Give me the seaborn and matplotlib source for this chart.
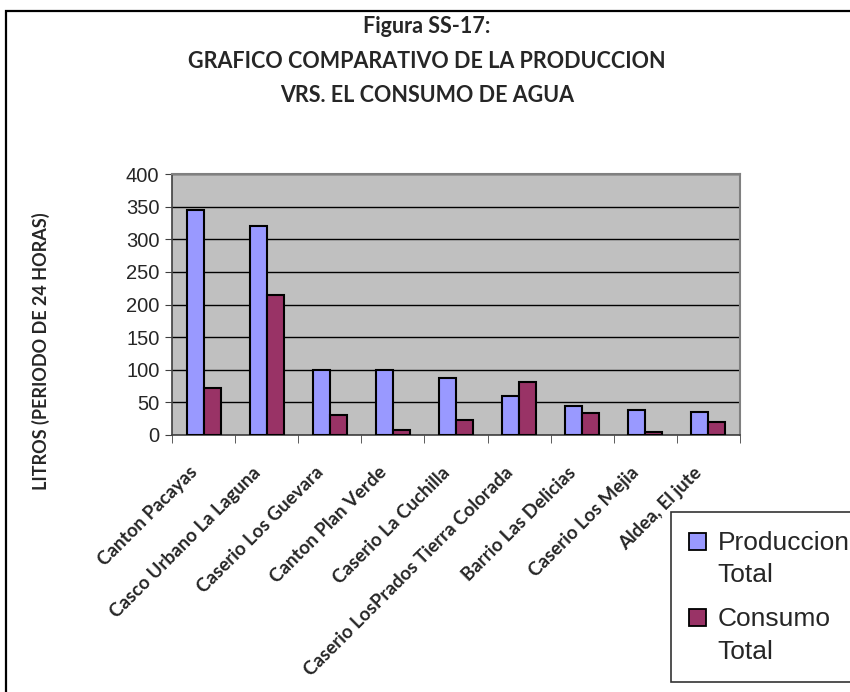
import pandas as pd
import matplotlib
matplotlib.use("Agg")
import matplotlib.pyplot as plt
import matplotlib.transforms as mtransforms
from matplotlib.patches import Rectangle
from matplotlib.legend_handler import HandlerPatch
import seaborn as sns

# data
places = ["Canton Pacayas", "Casco Urbano La Laguna", "Caserio Los Guevara",
          "Canton Plan Verde", "Caserio La Cuchilla", "Caserio LosPrados Tierra Colorada",
          "Barrio Las Delicias", "Caserio Los Mejia", "Aldea, El jute"]
produccion = [345, 321, 100, 100, 87, 60, 44, 38, 35]
consumo = [72, 215, 30, 8, 23, 81, 33, 5, 20]
series = ["Produccion Total", "Consumo Total"]
yticks = [0, 50, 100, 150, 200, 250, 300, 350, 400]
title_lines = ["Figura SS-17:", "GRAFICO COMPARATIVO DE LA PRODUCCION", "VRS. EL CONSUMO DE AGUA"]
ylabel = "LITROS (PERIODO DE 24 HORAS)"

df = pd.DataFrame({
    "lugar": places * 2,
    "serie": [series[0]] * len(places) + [series[1]] * len(places),
    "litros": produccion + consumo,
})

sns.set_style("white")
plt.rcParams["font.family"] = ["Liberation Sans", "DejaVu Sans"]

fig = plt.figure(figsize=(8.5, 6.92), dpi=100)
ax = fig.add_axes([172 / 850, 1 - 435 / 692, 568 / 850, 261 / 692])
ax.set_facecolor("#C0C0C0")

sns.barplot(data=df, x="lugar", y="litros", hue="serie", order=places, hue_order=series,
            palette=["#9999FF", "#993366"], width=0.54, edgecolor="black", linewidth=1.5,
            saturation=1, ax=ax, zorder=3)

ax.set_ylim(0, 400)
ax.set_xlim(-0.5, len(places) - 0.5)
ax.set_yticks(yticks)
ax.yaxis.grid(True, color="black", linewidth=1, zorder=0)
ax.set_axisbelow(True)
ax.tick_params(axis="y", labelsize=14.5, length=5, direction="out", left=True, color="#404040", pad=4)

# category labels at centers, tick marks between categories
ax.set_xticks(range(len(places)))
ax.set_xticklabels(places, rotation=45, ha="right", va="center", rotation_mode="anchor",
                   fontsize=13.5, fontweight="bold", family=["Lato", "DejaVu Sans"])
ax.tick_params(axis="x", which="major", length=0, pad=25)
ax.set_xticks([i - 0.5 for i in range(len(places) + 1)], minor=True)
ax.tick_params(axis="x", which="minor", length=6, direction="out", bottom=True, color="#404040")
shift = mtransforms.ScaledTranslation(-9 / 100, 0, fig.dpi_scale_trans)
for lab in ax.get_xticklabels():
    lab.set_transform(lab.get_transform() + shift)

ax.set_xlabel("")
ax.set_ylabel(ylabel, fontsize=13, fontweight="bold", family=["Lato", "DejaVu Sans"])
ax.yaxis.set_label_coords(-0.215, 0.32)

for side in ["top", "right"]:
    ax.spines[side].set_color("#808080")
    ax.spines[side].set_linewidth(1.5)
for side in ["left", "bottom"]:
    ax.spines[side].set_color("#404040")
    ax.spines[side].set_linewidth(1.2)


class TopSquare(HandlerPatch):
    def create_artists(self, legend, orig_handle, xdescent, ydescent, width, height, fontsize, trans):
        p = Rectangle((-xdescent, -ydescent + 0.68 * fontsize), width, height,
                      facecolor=orig_handle.get_facecolor(), edgecolor="black", linewidth=1.3,
                      transform=trans)
        return [p]


handles, labels = ax.get_legend_handles_labels()
ax.get_legend().remove()
leg = fig.legend(handles, [s.replace(" ", "\n") for s in labels],
                 loc="lower left", bbox_to_anchor=(671 / 850, 10 / 692),
                 fontsize=19, frameon=True, fancybox=False, edgecolor="black",
                 handlelength=0.62, handleheight=0.62, handletextpad=0.45,
                 labelspacing=0.75, borderpad=0.7, borderaxespad=0,
                 handler_map={Rectangle: TopSquare()})
leg.get_frame().set_linewidth(1.2)
for t in leg.get_texts():
    t.set_linespacing(1.45)

for y, line in zip([33, 68, 102], title_lines):
    fig.text(0.502, 1 - y / 692, line, ha="center", va="baseline", fontsize=15.5,
             fontweight="bold", family=["Lato", "DejaVu Sans"])

# outer frame of the chart (right and bottom edges fall outside the image)
fig.patches.append(Rectangle((6 / 850, -0.1), 1.2, 1 - 11 / 692 + 0.1, transform=fig.transFigure,
                             fill=False, edgecolor="black", linewidth=1.6, zorder=10))

fig.savefig("out.png", dpi=100)
